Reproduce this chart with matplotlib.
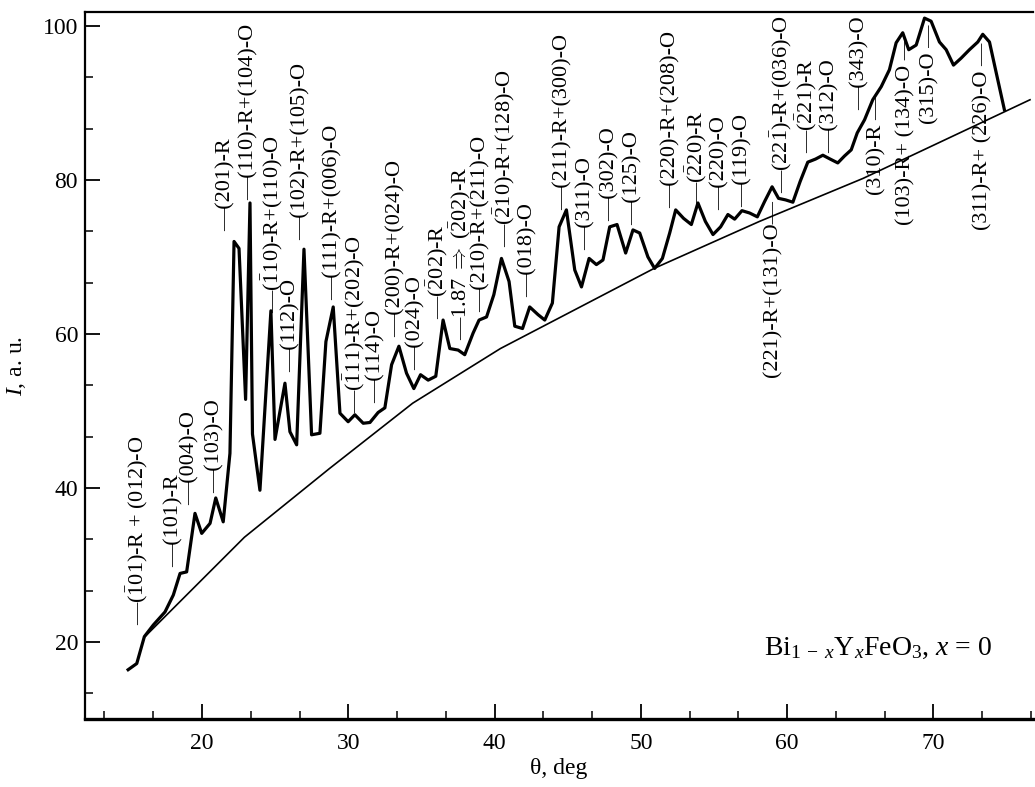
import matplotlib
matplotlib.use("Agg")
import matplotlib.pyplot as plt
from matplotlib.ticker import MultipleLocator

plt.rcParams['font.family'] = ['Liberation Serif', 'DejaVu Serif']
plt.rcParams['mathtext.fontset'] = 'custom'
plt.rcParams['mathtext.rm'] = 'Liberation Serif'
plt.rcParams['mathtext.it'] = 'Liberation Serif:italic'
plt.rcParams['mathtext.bf'] = 'Liberation Serif:bold'

# measured diffraction pattern (theta, deg / intensity, a.u.)
theta = [14.95, 15.54, 16.06, 16.67, 17.47, 18.04, 18.50, 18.95, 19.52, 19.98,
         20.55, 20.94, 21.45, 21.91, 22.19, 22.53, 22.98, 23.28, 23.45, 23.96,
         24.71, 24.99, 25.67, 26.01, 26.47, 26.97, 27.49, 28.06, 28.47, 28.97,
         29.43, 29.99, 30.45, 31.02, 31.48, 32.04, 32.50, 32.96, 33.46, 33.98,
         34.48, 34.94, 35.46, 35.98, 36.48, 36.94, 37.51, 37.96, 38.53, 38.94,
         39.45, 39.95, 40.47, 40.99, 41.38, 41.91, 42.40, 42.97, 43.43, 43.95,
         44.41, 44.91, 45.48, 45.94, 46.46, 46.96, 47.41, 47.87, 48.37, 48.96,
         49.46, 49.92, 50.48, 50.94, 51.47, 51.97, 52.38, 52.92, 53.45, 53.90,
         54.41, 54.93, 55.45, 55.95, 56.41, 56.91, 57.43, 57.96, 58.46, 58.97,
         59.41, 59.89, 60.39, 60.89, 61.41, 61.94, 62.44, 62.94, 63.46, 63.92,
         64.38, 64.79, 65.29, 65.85, 66.43, 66.99, 67.45, 67.90, 68.31, 68.82,
         69.39, 69.84, 70.41, 70.87, 71.37, 71.89, 72.46, 73.03, 73.37, 73.83,
         74.28, 74.85]
intensity = [16.4, 17.2, 20.7, 22.2, 23.9, 26.1, 28.9, 29.1, 36.7, 34.1,
             35.4, 38.7, 35.6, 44.5, 72.0, 71.1, 51.5, 77.0, 47.0, 39.7,
             63.0, 46.3, 53.6, 47.3, 45.6, 71.0, 46.9, 47.1, 59.0, 63.5,
             49.7, 48.6, 49.5, 48.4, 48.5, 49.8, 50.4, 56.0, 58.4, 54.9,
             52.9, 54.7, 54.0, 54.5, 61.8, 58.1, 57.9, 57.3, 60.1, 61.8,
             62.2, 65.1, 69.8, 66.8, 61.0, 60.7, 63.5, 62.5, 61.8, 64.0,
             73.9, 76.1, 68.3, 66.1, 69.8, 69.0, 69.6, 73.9, 74.2, 70.5,
             73.5, 73.1, 70.0, 68.5, 69.8, 73.1, 76.1, 75.0, 74.2, 77.0,
             74.6, 72.9, 73.9, 75.5, 74.9, 76.0, 75.7, 75.2, 77.2, 79.1,
             77.6, 77.4, 77.1, 79.8, 82.3, 82.7, 83.2, 82.7, 82.2, 83.1,
             83.9, 86.1, 87.8, 90.4, 92.1, 94.3, 97.8, 99.1, 96.9, 97.5,
             101.0, 100.6, 97.9, 96.9, 94.9, 95.8, 96.9, 97.9, 98.9, 97.9,
             94.0, 89.1]

# background line
bg_theta = [16.05, 22.9, 28.7, 34.4, 40.4, 50.9, 58.1, 65.2, 76.6]
bg_int = [20.6, 33.6, 42.5, 51.0, 58.1, 68.5, 74.6, 80.2, 90.4]

# peak labels: text, theta of label column, y of label end, above / below
peak_text = [
    r"—($\bar{1}$01)-R + (012)-O", "—(101)-R", "—(004)-O", "—(103)-O",
    "—(201)-R", "—(110)-R+(104)-O", r"—($\bar{1}$10)-R+(110)-O", "—(112)-O",
    "—(102)-R+(105)-O", "—(111)-R+(006)-O", r"—($\bar{1}$11)-R+(202)-O",
    "—(114)-O", "—(200)-R+(024)-O", "—(024)-O", r"—($\bar{2}$02)-R",
    r"—1.87 $\Rightarrow$ ($\bar{2}$02)-R", "—(210)-R+(211)-O",
    r"—($\bar{2}$10)-R+(128)-O", "—(018)-O", "—(211)-R+(300)-O", "—(311)-O",
    "—(302)-O", "—(125)-O", "—(220)-R+(208)-O", r"—($\bar{2}$20)-R",
    "—(220)-O", "—(119)-O", "(221)-R+(131)-O—", r"—(22$\bar{1}$)-R+(036)-O",
    r"—($\bar{2}$21)-R", "—(312)-O", "—(343)-O", "(310)-R —",
    "(103)-R+ (134)-O —", "(315)-O —", "(311)-R+ (226)-O —",
]
peak_theta = [15.58, 18.09, 19.21, 20.89, 21.67, 23.21, 24.78, 26.06, 26.80,
              28.97, 30.38, 31.92, 33.29, 34.65, 36.05, 37.65, 39.10, 40.63,
              42.30, 44.66, 46.26, 47.87, 49.44, 52.07, 53.78, 55.42, 56.99,
              59.00, 59.58, 61.29, 62.90, 64.95, 66.11, 68.09, 69.73, 73.35]
peak_y = [22.2, 29.8, 37.8, 39.3, 73.3, 77.4, 62.7, 55.1, 72.2, 64.4, 49.7,
          51.0, 59.6, 55.3, 62.0, 59.2, 62.9, 71.3, 64.8, 76.1, 70.9, 74.6,
          74.2, 76.4, 76.7, 76.1, 76.5, 77.4, 78.3, 83.5, 83.5, 89.1, 90.8,
          98.6, 100.1, 97.8]
peak_above = [True] * 27 + [False] + [True] * 4 + [False] * 4

fig = plt.figure(figsize=(10.35, 7.87), dpi=100)
ax = fig.add_axes([0.0821, 0.0864, 0.9159, 0.8984])

ax.plot(theta, intensity, color='black', linewidth=2.3)
ax.plot(bg_theta, bg_int, color='black', linewidth=1.2)

for txt, t, y, above in zip(peak_text, peak_theta, peak_y, peak_above):
    ax.text(t, y, txt, rotation=90, fontsize=16, ha='center',
            va='bottom' if above else 'top')

ax.text(74.0, 19.2, r"Bi$_{1\;-\;x}$Y$_{x}$FeO$_{3}$, $x$ = 0", fontsize=20,
        ha='right', va='center')

ax.set_xlim(12.0, 76.8)
ax.set_ylim(10.0, 101.8)
ax.xaxis.set_major_locator(MultipleLocator(10))
ax.xaxis.set_minor_locator(MultipleLocator(10 / 3))
ax.yaxis.set_major_locator(MultipleLocator(20))
ax.yaxis.set_minor_locator(MultipleLocator(20 / 3))
ax.tick_params(which='both', direction='in', top=False, right=False,
               labelsize=17)
ax.tick_params(which='major', length=11, width=1.3)
ax.tick_params(which='minor', length=6, width=1.1)
ax.tick_params(axis='x', pad=10)
ax.tick_params(axis='y', pad=5)

ax.spines['right'].set_visible(False)
ax.spines['top'].set_linewidth(1.6)
ax.spines['left'].set_linewidth(1.6)
ax.spines['bottom'].set_linewidth(2.4)

ax.set_xlabel("θ, deg", fontsize=17)
ax.set_ylabel("$I$, a. u.", fontsize=17)
ax.xaxis.set_label_coords(0.5, -0.055)
ax.yaxis.set_label_coords(-0.060, 0.5)

fig.savefig("out.png", dpi=100)
plt.close(fig)
